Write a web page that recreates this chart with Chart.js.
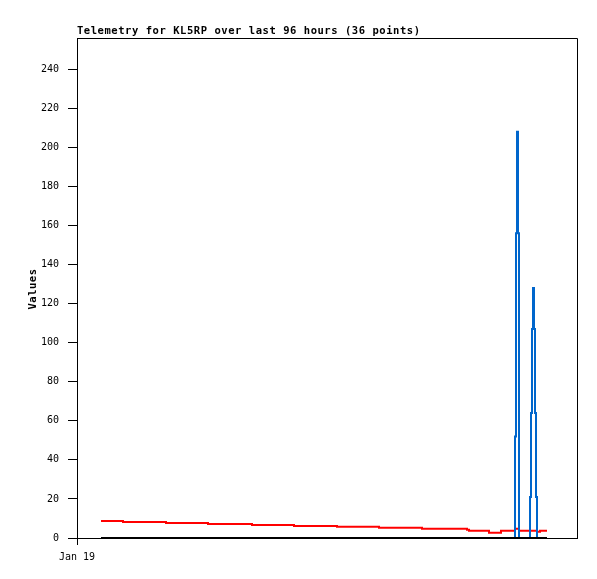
<!DOCTYPE html>
<html>
<head>
<meta charset="utf-8">
<script src="https://cdn.jsdelivr.net/npm/chart.js@4.4.0/dist/chart.umd.min.js"></script>
<style>
  html, body { margin: 0; padding: 0; background: #fff; }
  #wrap { width: 597px; height: 579px; }
</style>
</head>
<body>
<div id="wrap"><canvas id="telemetry" width="597" height="579"></canvas></div>
<script>
// time of each sample, hours after Jan 19 00:00 (36 points)
var hours = [4.8, 9.2, 13.6, 17.8, 22.0, 26.2, 30.6, 35.0, 39.2, 43.4, 47.6, 52.0,
             56.2, 60.4, 64.6, 69.0, 73.6, 78.0, 78.4, 82.4, 84.8, 87.6, 87.8, 88.0,
             88.2, 88.4, 90.6, 90.8, 91.0, 91.2, 91.4, 91.6, 91.8, 92.0, 92.6, 94.0];
var redValues = [8.7, 8.2, 8.2, 7.7, 7.7, 7.2, 7.2, 6.7, 6.7, 6.2, 6.2, 5.7,
                 5.7, 5.2, 5.2, 4.7, 4.7, 4.2, 3.7, 2.7, 3.7, 4.7, 4.7, 4.7,
                 4.7, 3.7, 3.7, 3.7, 3.7, 3.7, 3.7, 3.7, 3.7, 3.2, 3.7, 3.7];
var blueValues = [0, 0, 0, 0, 0, 0, 0, 0, 0, 0, 0, 0,
                  0, 0, 0, 0, 0, 0, 0, 0, 0, 52, 156, 208,
                  156, 0, 21, 64, 107, 128, 107, 64, 21, 0, 0, 0];
var blackValues = [0, 0, 0, 0, 0, 0, 0, 0, 0, 0, 0, 0,
                   0, 0, 0, 0, 0, 0, 0, 0, 0, 0, 0, 0,
                   0, 0, 0, 0, 0, 0, 0, 0, 0, 0, 0, 0];
var xTickValues = [0];
var xTickLabels = ['Jan 19'];
var chartTitle = 'Telemetry for KL5RP over last 96 hours (36 points)';
var yTitle = 'Values';

function pts(vals) {
  return vals.map(function (v, i) { return { x: hours[i], y: v }; });
}

// title, y-axis title and the closed frame drawn by hand
var decor = {
  id: 'decor',
  afterDraw: function (chart) {
    var ctx = chart.ctx, a = chart.chartArea;
    ctx.save();
    ctx.strokeStyle = '#000';
    ctx.lineWidth = 1;
    ctx.beginPath();
    ctx.moveTo(a.left, a.top + 0.5);
    ctx.lineTo(a.right + 0.5, a.top + 0.5);
    ctx.lineTo(a.right + 0.5, a.bottom);
    ctx.stroke();

    ctx.fillStyle = '#000';
    ctx.font = 'bold 10.5px "DejaVu Sans Mono"';
    ctx.letterSpacing = '0.55px';
    ctx.textAlign = 'left';
    ctx.textBaseline = 'alphabetic';
    ctx.fillText(chartTitle, a.left, 34);

    ctx.translate(36, 289);
    ctx.rotate(-Math.PI / 2);
    ctx.textAlign = 'center';
    ctx.fillText(yTitle, 0, 0);
    ctx.restore();
  }
};

new Chart(document.getElementById('telemetry'), {
  type: 'line',
  data: {
    datasets: [
      { data: pts(blackValues), borderColor: '#000000', borderWidth: 2, stepped: true, pointRadius: 0, clip: false },
      { data: pts(blueValues), borderColor: '#0066cc', borderWidth: 2, stepped: true, pointRadius: 0, clip: false },
      { data: pts(redValues), borderColor: '#ff0000', borderWidth: 2, stepped: true, pointRadius: 0, clip: false }
    ]
  },
  options: {
    responsive: false,
    animation: false,
    layout: { padding: { top: 38, right: 20, left: 0, bottom: 0 } },
    plugins: { legend: { display: false }, tooltip: { enabled: false } },
    scales: {
      x: {
        type: 'linear',
        min: 0,
        max: 100,
        afterFit: function (s) { s.height = 41; },
        afterBuildTicks: function (s) { s.ticks = xTickValues.map(function (v) { return { value: v }; }); },
        grid: { drawOnChartArea: false, color: '#000', tickLength: 7 },
        border: { color: '#000' },
        ticks: {
          color: '#000',
          font: { family: 'DejaVu Sans Mono', size: 10 },
          padding: 6,
          maxRotation: 0,
          callback: function (v, i) { return xTickLabels[i]; }
        }
      },
      y: {
        min: 0,
        max: 256,
        afterFit: function (s) { s.width = 77; },
        grid: { drawOnChartArea: false, color: '#000', tickLength: 9 },
        border: { color: '#000' },
        ticks: {
          stepSize: 20,
          includeBounds: false,
          color: '#000',
          padding: 9,
          font: { family: 'DejaVu Sans Mono', size: 10 }
        }
      }
    }
  },
  plugins: [decor]
});
</script>
</body>
</html>
